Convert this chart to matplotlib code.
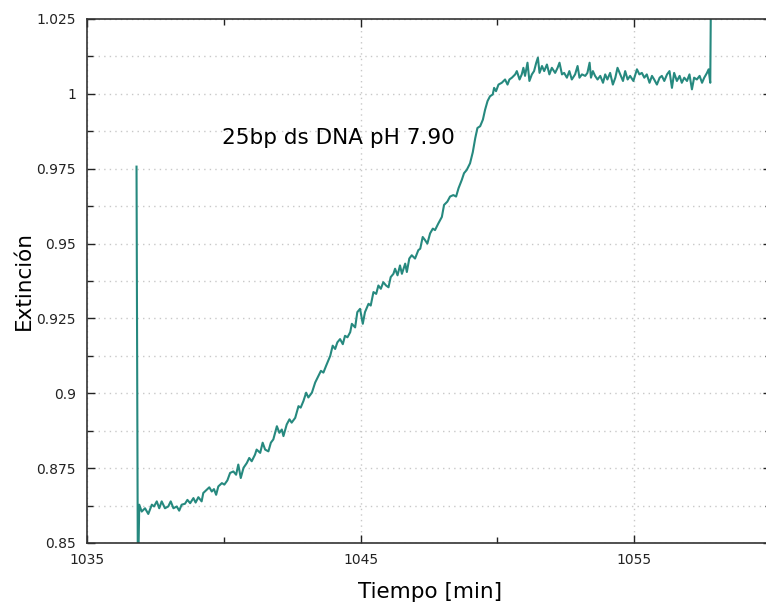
import matplotlib
matplotlib.use("Agg")
import matplotlib.pyplot as plt
from matplotlib.ticker import FixedLocator, MultipleLocator

# tiempo [min] / extincion
tiempo = [
    1036.81, 1036.86, 1036.91, 1037.00, 1037.12, 1037.24, 1037.37, 1037.45, 1037.55, 1037.64,
    1037.73, 1037.85, 1037.97, 1038.06, 1038.16, 1038.28, 1038.37, 1038.46, 1038.58, 1038.67,
    1038.77, 1038.89, 1038.97, 1039.07, 1039.19, 1039.25, 1039.38, 1039.47, 1039.56, 1039.64,
    1039.72, 1039.80, 1039.93, 1040.02, 1040.13, 1040.23, 1040.35, 1040.45, 1040.53, 1040.62,
    1040.72, 1040.84, 1040.93, 1041.02, 1041.14, 1041.20, 1041.33, 1041.42, 1041.51, 1041.63,
    1041.72, 1041.81, 1041.94, 1042.03, 1042.12, 1042.18, 1042.30, 1042.40, 1042.48, 1042.61,
    1042.73, 1042.81, 1042.91, 1043.01, 1043.09, 1043.22, 1043.34, 1043.46, 1043.55, 1043.64,
    1043.74, 1043.89, 1043.98, 1044.07, 1044.15, 1044.25, 1044.35, 1044.43, 1044.52, 1044.62,
    1044.68, 1044.80, 1044.88, 1044.98, 1045.08, 1045.16, 1045.29, 1045.37, 1045.47, 1045.57,
    1045.65, 1045.74, 1045.83, 1045.93, 1046.02, 1046.10, 1046.20, 1046.26, 1046.35, 1046.44,
    1046.51, 1046.63, 1046.69, 1046.78, 1046.87, 1046.99, 1047.11, 1047.18, 1047.27, 1047.36,
    1047.44, 1047.54, 1047.64, 1047.72, 1047.84, 1047.97, 1048.05, 1048.17, 1048.27, 1048.39,
    1048.49, 1048.58, 1048.70, 1048.78, 1048.88, 1049.00, 1049.10, 1049.19, 1049.27, 1049.37,
    1049.47, 1049.55, 1049.64, 1049.73, 1049.83, 1049.88, 1049.95, 1050.04, 1050.16, 1050.28,
    1050.37, 1050.44, 1050.53, 1050.65, 1050.71, 1050.81, 1050.89, 1050.95, 1051.01, 1051.10,
    1051.17, 1051.26, 1051.34, 1051.42, 1051.48, 1051.54, 1051.63, 1051.71, 1051.81, 1051.90,
    1051.99, 1052.11, 1052.20, 1052.27, 1052.36, 1052.44, 1052.54, 1052.63, 1052.72, 1052.84,
    1052.93, 1053.00, 1053.09, 1053.21, 1053.29, 1053.37, 1053.42, 1053.49, 1053.57, 1053.66,
    1053.76, 1053.86, 1053.94, 1054.02, 1054.12, 1054.22, 1054.31, 1054.39, 1054.49, 1054.59,
    1054.67, 1054.76, 1054.85, 1054.97, 1055.10, 1055.19, 1055.28, 1055.37, 1055.46, 1055.56,
    1055.65, 1055.73, 1055.83, 1055.93, 1056.01, 1056.10, 1056.20, 1056.29, 1056.38, 1056.46,
    1056.56, 1056.66, 1056.74, 1056.83, 1056.93, 1057.02, 1057.11, 1057.19, 1057.29, 1057.39,
    1057.48, 1057.56, 1057.66, 1057.72, 1057.78, 1057.81,
]
extincion = [
    0.9757, 0.8350, 0.8628, 0.8605, 0.8616, 0.8597, 0.8628, 0.8622, 0.8639, 0.8616,
    0.8639, 0.8616, 0.8622, 0.8639, 0.8616, 0.8622, 0.8608, 0.8628, 0.8631, 0.8644,
    0.8633, 0.8650, 0.8635, 0.8653, 0.8639, 0.8667, 0.8678, 0.8686, 0.8672, 0.8680,
    0.8661, 0.8689, 0.8700, 0.8695, 0.8709, 0.8734, 0.8739, 0.8728, 0.8762, 0.8717,
    0.8751, 0.8767, 0.8784, 0.8773, 0.8795, 0.8812, 0.8801, 0.8835, 0.8812, 0.8806,
    0.8835, 0.8846, 0.8890, 0.8868, 0.8879, 0.8857, 0.8896, 0.8913, 0.8902, 0.8918,
    0.8957, 0.8952, 0.8974, 0.9002, 0.8986, 0.9002, 0.9036, 0.9058, 0.9075, 0.9069,
    0.9092, 0.9125, 0.9159, 0.9148, 0.9170, 0.9181, 0.9164, 0.9192, 0.9187, 0.9204,
    0.9232, 0.9220, 0.9271, 0.9282, 0.9232, 0.9271, 0.9299, 0.9293, 0.9338, 0.9332,
    0.9360, 0.9349, 0.9371, 0.9360, 0.9354, 0.9388, 0.9399, 0.9416, 0.9394, 0.9427,
    0.9399, 0.9433, 0.9405, 0.9450, 0.9461, 0.9450, 0.9478, 0.9483, 0.9522, 0.9511,
    0.9500, 0.9534, 0.9550, 0.9545, 0.9567, 0.9589, 0.9629, 0.9640, 0.9657, 0.9662,
    0.9657, 0.9685, 0.9713, 0.9735, 0.9746, 0.9768, 0.9805, 0.9852, 0.9886, 0.9892,
    0.9914, 0.9947, 0.9976, 0.9992, 0.9998, 1.0020, 1.0009, 1.0031, 1.0037, 1.0048,
    1.0031, 1.0048, 1.0054, 1.0065, 1.0076, 1.0048, 1.0065, 1.0087, 1.0060, 1.0104,
    1.0043, 1.0065, 1.0076, 1.0104, 1.0121, 1.0070, 1.0093, 1.0076, 1.0098, 1.0065,
    1.0087, 1.0070, 1.0087, 1.0104, 1.0065, 1.0070, 1.0054, 1.0076, 1.0048, 1.0065,
    1.0093, 1.0054, 1.0065, 1.0060, 1.0070, 1.0104, 1.0054, 1.0076, 1.0060, 1.0048,
    1.0060, 1.0037, 1.0065, 1.0048, 1.0070, 1.0031, 1.0054, 1.0087, 1.0065, 1.0043,
    1.0076, 1.0048, 1.0060, 1.0043, 1.0082, 1.0065, 1.0070, 1.0054, 1.0065, 1.0037,
    1.0060, 1.0048, 1.0031, 1.0054, 1.0060, 1.0043, 1.0065, 1.0076, 1.0020, 1.0070,
    1.0043, 1.0060, 1.0037, 1.0054, 1.0043, 1.0065, 1.0015, 1.0054, 1.0048, 1.0060,
    1.0037, 1.0054, 1.0070, 1.0082, 1.0037, 1.0400,
]
x_major = [1035, 1045, 1055]
x_minor = [1040, 1050, 1060]

fig = plt.figure(figsize=(7.66, 6.05), dpi=100)
# right spine sits just outside the picture, as in the reference
ax = fig.add_axes([87/766, 62/605, 684/766, 524/605])

ax.plot(tiempo, extincion, color="#26897f", linewidth=1.5)

ax.set_xlim(1035, 1060)
ax.set_ylim(0.85, 1.025)

ax.xaxis.set_major_locator(FixedLocator(x_major))
ax.xaxis.set_minor_locator(FixedLocator(x_minor))
ax.yaxis.set_major_locator(MultipleLocator(0.025))
ax.yaxis.set_minor_locator(MultipleLocator(0.0125))
ax.yaxis.set_major_formatter(plt.FuncFormatter(lambda v, p: "%g" % round(v, 4)))

ax.grid(which="major", axis="x", color="#c8c8c8", linestyle=(0, (1, 3)), linewidth=1)
ax.grid(which="both", axis="y", color="#c8c8c8", linestyle=(0, (1, 3)), linewidth=1)

ax.tick_params(which="both", direction="in", top=True, right=True, colors="#222222",
               labelsize=10, width=1)
ax.tick_params(which="major", length=6)
ax.tick_params(which="minor", length=4)
ax.tick_params(axis="y", pad=8)
ax.tick_params(axis="x", pad=7)

for s in ax.spines.values():
    s.set_color("#333333")
    s.set_linewidth(1.2)

ax.text(1039.94, 0.9852, "25bp ds DNA pH 7.90", fontsize=15.5, ha="left", va="center")

fig.text(430/766, 1 - 592/605, "Tiempo [min]", fontsize=15.5, ha="center", va="center")
fig.text(24/766, 1 - 280/605, "Extinción", fontsize=15.5, ha="center", va="center",
         rotation=90)

fig.savefig("out.png", dpi=100)
